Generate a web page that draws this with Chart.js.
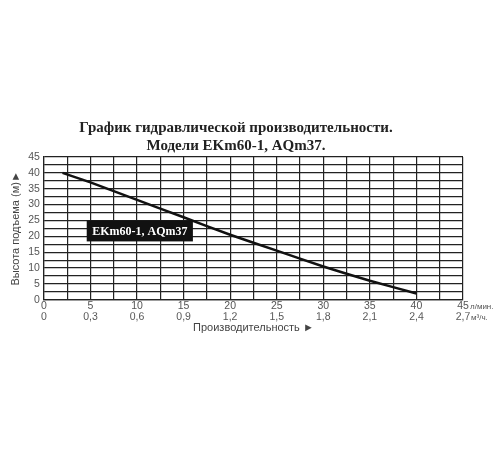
<!DOCTYPE html>
<html>
<head>
<meta charset="utf-8">
<script src="https://cdn.jsdelivr.net/npm/chart.js@4.4.1/dist/chart.umd.min.js"></script>
<style>
  html, body { margin: 0; padding: 0; background: #fff; }
  #wrap { width: 500px; height: 450px; }
</style>
</head>
<body>
<div id="wrap"><canvas id="myChart"></canvas></div>
<script>
'use strict';

// DATA
let flowLpm = [2, 5, 10, 15, 20, 25, 30, 35, 40];
let headM = [40, 37, 31.5, 26, 20.5, 15.5, 10.5, 6, 2];
let flowM3Ticks = [0, 0.3, 0.6, 0.9, 1.2, 1.5, 1.8, 2.1, 2.4, 2.7];
let titleLines = ['График гидравлической производительности.', 'Модели EKm60-1, AQm37.'];
let modelLabel = 'EKm60-1, AQm37';

// label box corners in data units
let boxX = [4.6, 16];
let boxY = [25, 18.4];

let points = [];
for (let i = 0; i < flowLpm.length; i++) {
  points.push({ x: flowLpm[i], y: headM[i] });
}

// draws the model label and the unit names
const extras = {
  id: 'extras',
  afterDraw(chart) {
    const ctx = chart.ctx;
    const x = chart.scales.x;
    const y = chart.scales.y;
    const x2 = chart.scales.x2;

    let left = x.getPixelForValue(boxX[0]);
    let right = x.getPixelForValue(boxX[1]);
    let top = y.getPixelForValue(boxY[0]);
    let bottom = y.getPixelForValue(boxY[1]);
    ctx.save();
    ctx.fillStyle = '#111';
    ctx.fillRect(left, top, right - left, bottom - top);
    ctx.fillStyle = '#fff';
    ctx.font = 'bold 12px "Liberation Serif"';
    ctx.textAlign = 'center';
    ctx.textBaseline = 'middle';
    ctx.fillText(modelLabel, (left + right) / 2, (top + bottom) / 2 + 1);

    ctx.fillStyle = '#555';
    ctx.font = '8px "Liberation Sans"';
    ctx.textAlign = 'left';
    ctx.textBaseline = 'middle';
    ctx.fillText('л/мин.', x.getPixelForValue(45) + 7, x.bottom - 6);
    ctx.fillText('м³/ч.', x2.getPixelForValue(2.7) + 8, x2.top + 5);
    ctx.restore();
  }
};

const tickFont = { family: '"Liberation Sans"', size: 10.5, lineHeight: 1 };

const ctx = document.getElementById('myChart').getContext('2d');
const myChart = new Chart(ctx, {
  type: 'line',
  data: {
    datasets: [{
      data: points,
      borderColor: '#111',
      borderWidth: 2.5,
      pointRadius: 0,
      tension: 0.15,
      fill: false
    }]
  },
  options: {
    responsive: true,
    maintainAspectRatio: false,
    animation: false,
    layout: { padding: { top: 115, left: 9, right: 37, bottom: 115 } },
    plugins: {
      legend: { display: false },
      tooltip: { enabled: false },
      title: {
        display: true,
        text: titleLines,
        color: '#222',
        font: { family: '"Liberation Serif"', size: 15, weight: 'bold', lineHeight: 1.2 },
        padding: { top: 4, bottom: 2 }
      }
    },
    scales: {
      x: {
        type: 'linear',
        min: 0,
        max: 45,
        position: 'bottom',
        grid: { color: '#222', lineWidth: 1.2, drawTicks: false },
        border: { color: '#222', width: 1.2 },
        ticks: {
          stepSize: 2.5,
          autoSkip: false,
          maxRotation: 0,
          padding: 1,
          color: '#555',
          font: tickFont,
          callback: function (v) { return v % 5 === 0 ? String(v) : ''; }
        }
      },
      x2: {
        type: 'linear',
        min: 0,
        max: 2.7,
        position: 'bottom',
        grid: { display: false },
        border: { display: false },
        afterBuildTicks: function (scale) {
          scale.ticks = flowM3Ticks.map(function (v) { return { value: v }; });
        },
        ticks: {
          autoSkip: false,
          maxRotation: 0,
          padding: -8,
          color: '#555',
          font: tickFont,
          callback: function (v) { return v === 0 ? '0' : v.toFixed(1).replace('.', ','); }
        },
        title: {
          display: true,
          text: 'Производительность ►',
          color: '#444',
          font: { family: '"Liberation Sans"', size: 11 },
          padding: { top: 7, bottom: 0 }
        }
      },
      y: {
        min: 0,
        max: 45,
        grid: { color: '#222', lineWidth: 1.2, drawTicks: false },
        border: { color: '#222', width: 1.2 },
        ticks: {
          stepSize: 2.5,
          autoSkip: false,
          padding: 4,
          color: '#555',
          font: tickFont,
          callback: function (v) { return v % 5 === 0 ? String(v) : ''; }
        },
        title: {
          display: true,
          text: 'Высота подъема (м)►',
          color: '#444',
          font: { family: '"Liberation Sans"', size: 11 },
          padding: { top: 0, bottom: 2 }
        }
      }
    }
  },
  plugins: [extras]
});
</script>
</body>
</html>
